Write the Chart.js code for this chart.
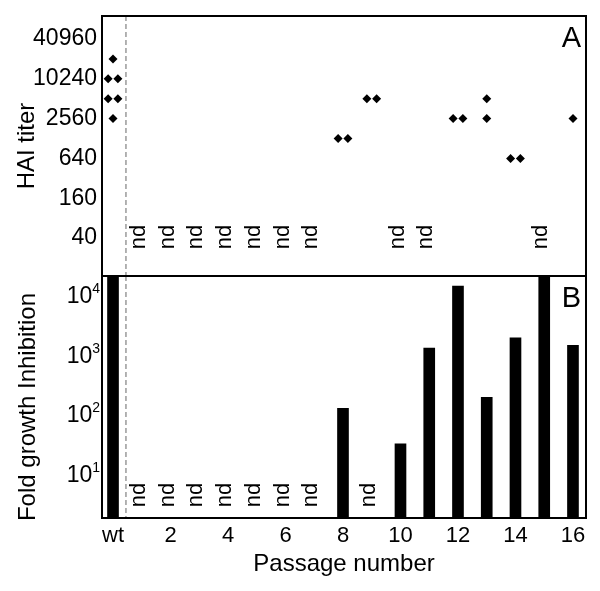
<!DOCTYPE html>
<html>
<head>
<meta charset="utf-8">
<script src="https://cdn.jsdelivr.net/npm/chart.js@4.4.1/dist/chart.umd.min.js"></script>
<style>
    html, body { margin: 0; padding: 0; background: #fff; }
    #wrap { position: relative; width: 600px; height: 591px; }
    .panel { position: absolute; left: 0; width: 600px; }
    #top { top: 0; height: 278px; }
    #bottom { top: 266px; height: 325px; }
</style>
</head>
<body>
<div id="wrap">
    <div class="panel" id="top"><canvas id="haiChart"></canvas></div>
    <div class="panel" id="bottom"><canvas id="fgiChart"></canvas></div>
</div>
<script>
// Passage 0 is the wild type ("wt")
const passageTicks = [0, 2, 4, 6, 8, 10, 12, 14, 16];

// Panel A - HAI titers, one entry per replicate
const haiPassage = [0, 0, 0, 0, 0, 0, 8, 8, 9, 9, 12, 12, 13, 13, 14, 14, 16];
const haiTiter = [20480, 10240, 10240, 5120, 5120, 2560, 1280, 1280, 5120, 5120, 2560, 2560, 5120, 2560, 640, 640, 2560];
const haiTicks = [40, 160, 640, 2560, 10240, 40960];
const haiNotDone = [1, 2, 3, 4, 5, 6, 7, 10, 11, 15];

// Panel B - fold growth inhibition (wt and 15 run off the top of the axis)
const fgiPassage = [0, 8, 10, 11, 12, 13, 14, 15, 16];
const fgiValue = [30000, 122, 31, 1250, 13800, 187, 1870, 30000, 1400];
const fgiTicks = [10, 100, 1000, 10000];
const fgiNotDone = [1, 2, 3, 4, 5, 6, 7, 9];

const FONT = "'Liberation Sans', Arial, Helvetica, sans-serif";
Chart.defaults.font.family = FONT;
Chart.defaults.color = '#000';

const X_MIN = -0.383;
const X_MAX = 16.453;
const SEPARATOR_AT = 0.45;

// Replicates sharing passage and titer sit side by side
function spreadReplicates(passages, values, gap) {
    const groups = {};
    passages.forEach((p, i) => {
        const key = p + '|' + values[i];
        (groups[key] = groups[key] || []).push(i);
    });
    return passages.map((p, i) => {
        const grp = groups[p + '|' + values[i]];
        const j = grp.indexOf(i);
        return { x: p + (j - (grp.length - 1) / 2) * gap, y: values[i] };
    });
}

// Keep the plot area fixed: no label overhang padding
function noOverhang(s) {
    s.paddingTop = 0;
    s.paddingBottom = 0;
    s.paddingLeft = 0;
    s.paddingRight = 0;
}

/**
 * Frame, dashed wt separator, panel letter and "nd" marks
 */
const panelDecor = {
    id: 'panelDecor',
    beforeDatasetsDraw(chart, args, opts) {
        const { ctx, chartArea: a, scales } = chart;
        const sx = scales.x.getPixelForValue(SEPARATOR_AT);
        ctx.save();
        ctx.strokeStyle = '#9a9a9a';
        ctx.lineWidth = 1.5;
        ctx.setLineDash([5, 3]);
        ctx.beginPath();
        ctx.moveTo(sx, a.top);
        ctx.lineTo(sx, a.bottom);
        ctx.stroke();
        ctx.restore();
    },
    afterDraw(chart, args, opts) {
        const { ctx, chartArea: a, scales } = chart;
        ctx.save();
        // nd labels
        ctx.fillStyle = '#000';
        ctx.font = '22px ' + FONT;
        ctx.textAlign = 'center';
        ctx.textBaseline = 'middle';
        (opts.notDone || []).forEach(p => {
            ctx.save();
            ctx.translate(scales.x.getPixelForValue(p) - 3, a.bottom - opts.ndLift);
            ctx.rotate(-Math.PI / 2);
            ctx.fillText('nd', 0, 0);
            ctx.restore();
        });
        // panel letter
        ctx.font = '29px ' + FONT;
        ctx.textAlign = 'right';
        ctx.textBaseline = 'alphabetic';
        ctx.fillText(opts.letter, a.right - 5, a.top + 31);
        // frame
        ctx.strokeStyle = '#000';
        ctx.lineWidth = 2;
        ctx.strokeRect(a.left, a.top, a.right - a.left, a.bottom - a.top);
        ctx.restore();
    }
};

/**
 * 10^n tick labels with a raised exponent
 */
const powerTicks = {
    id: 'powerTicks',
    afterDraw(chart, args, opts) {
        if (!opts.enabled) return;
        const { ctx, scales } = chart;
        const y = scales.y;
        ctx.save();
        ctx.fillStyle = '#000';
        ctx.textBaseline = 'alphabetic';
        y.ticks.forEach(t => {
            const py = y.getPixelForValue(t.value);
            const exp = String(Math.round(Math.log10(t.value)));
            ctx.font = '14px ' + FONT;
            const ew = ctx.measureText(exp).width;
            const right = y.right - 2;
            ctx.textAlign = 'right';
            ctx.fillText(exp, right, py - 1);
            ctx.font = '23px ' + FONT;
            ctx.fillText('10', right - ew, py + 9);
        });
        ctx.restore();
    }
};

Chart.register(panelDecor, powerTicks);

function xScale(show) {
    return {
        type: 'linear',
        display: show,
        offset: false,
        min: X_MIN,
        max: X_MAX,
        grid: { display: false, drawTicks: false, offset: false },
        border: { display: false },
        afterBuildTicks: s => { s.ticks = passageTicks.map(v => ({ value: v })); },
        afterFit: s => {
            noOverhang(s);
            if (show) s.height = 73;
        },
        ticks: {
            autoSkip: false,
            maxRotation: 0,
            padding: 5,
            font: { size: 22 },
            callback: v => (v === 0 ? 'wt' : String(v))
        },
        title: {
            display: show,
            text: 'Passage number',
            font: { size: 24 },
            padding: { top: 0, bottom: 12 }
        }
    };
}

// Panel A
new Chart(document.getElementById('haiChart'), {
    type: 'scatter',
    data: {
        datasets: [{
            data: spreadReplicates(haiPassage, haiTiter, 0.34),
            pointStyle: 'rectRot',
            pointRadius: 4.5,
            pointHoverRadius: 4.5,
            backgroundColor: '#000',
            borderWidth: 0
        }]
    },
    options: {
        responsive: true,
        maintainAspectRatio: false,
        animation: false,
        layout: { autoPadding: false, padding: { top: 16, right: 14, bottom: 2, left: 0 } },
        plugins: {
            legend: { display: false },
            tooltip: { enabled: false },
            panelDecor: { letter: 'A', notDone: haiNotDone, ndLift: 39 },
            powerTicks: { enabled: false }
        },
        scales: {
            x: xScale(false),
            y: {
                type: 'logarithmic',
                min: 10.65,
                max: 91270,
                grid: { display: false, drawTicks: false },
                border: { display: false },
                afterBuildTicks: s => { s.ticks = haiTicks.map(v => ({ value: v })); },
                afterFit: s => {
                    noOverhang(s);
                    s.width = 102;
                },
                ticks: {
                    padding: 5,
                    font: { size: 23 },
                    callback: v => String(v)
                },
                title: {
                    display: true,
                    text: 'HAI titer',
                    font: { size: 24 },
                    padding: { top: 13, bottom: 0 }
                }
            }
        }
    }
});

// Panel B
new Chart(document.getElementById('fgiChart'), {
    type: 'bar',
    data: {
        datasets: [{
            data: fgiPassage.map((p, i) => ({ x: p, y: fgiValue[i] })),
            backgroundColor: '#000',
            borderWidth: 0,
            barThickness: 11
        }]
    },
    options: {
        responsive: true,
        maintainAspectRatio: false,
        animation: false,
        layout: { autoPadding: false, padding: { top: 10, right: 14, bottom: 0, left: 0 } },
        plugins: {
            legend: { display: false },
            tooltip: { enabled: false },
            panelDecor: { letter: 'B', notDone: fgiNotDone, ndLift: 23 },
            powerTicks: { enabled: true }
        },
        scales: {
            x: xScale(true),
            y: {
                type: 'logarithmic',
                min: 1.75,
                max: 20400,
                grid: { display: false, drawTicks: false },
                border: { display: false },
                afterBuildTicks: s => { s.ticks = fgiTicks.map(v => ({ value: v })); },
                afterFit: s => {
                    noOverhang(s);
                    s.width = 102;
                },
                ticks: { display: false },
                title: {
                    display: true,
                    text: 'Fold growth Inhibition   ',
                    font: { size: 24 },
                    padding: { top: 14, bottom: 0 }
                }
            }
        }
    }
});
</script>
</body>
</html>
